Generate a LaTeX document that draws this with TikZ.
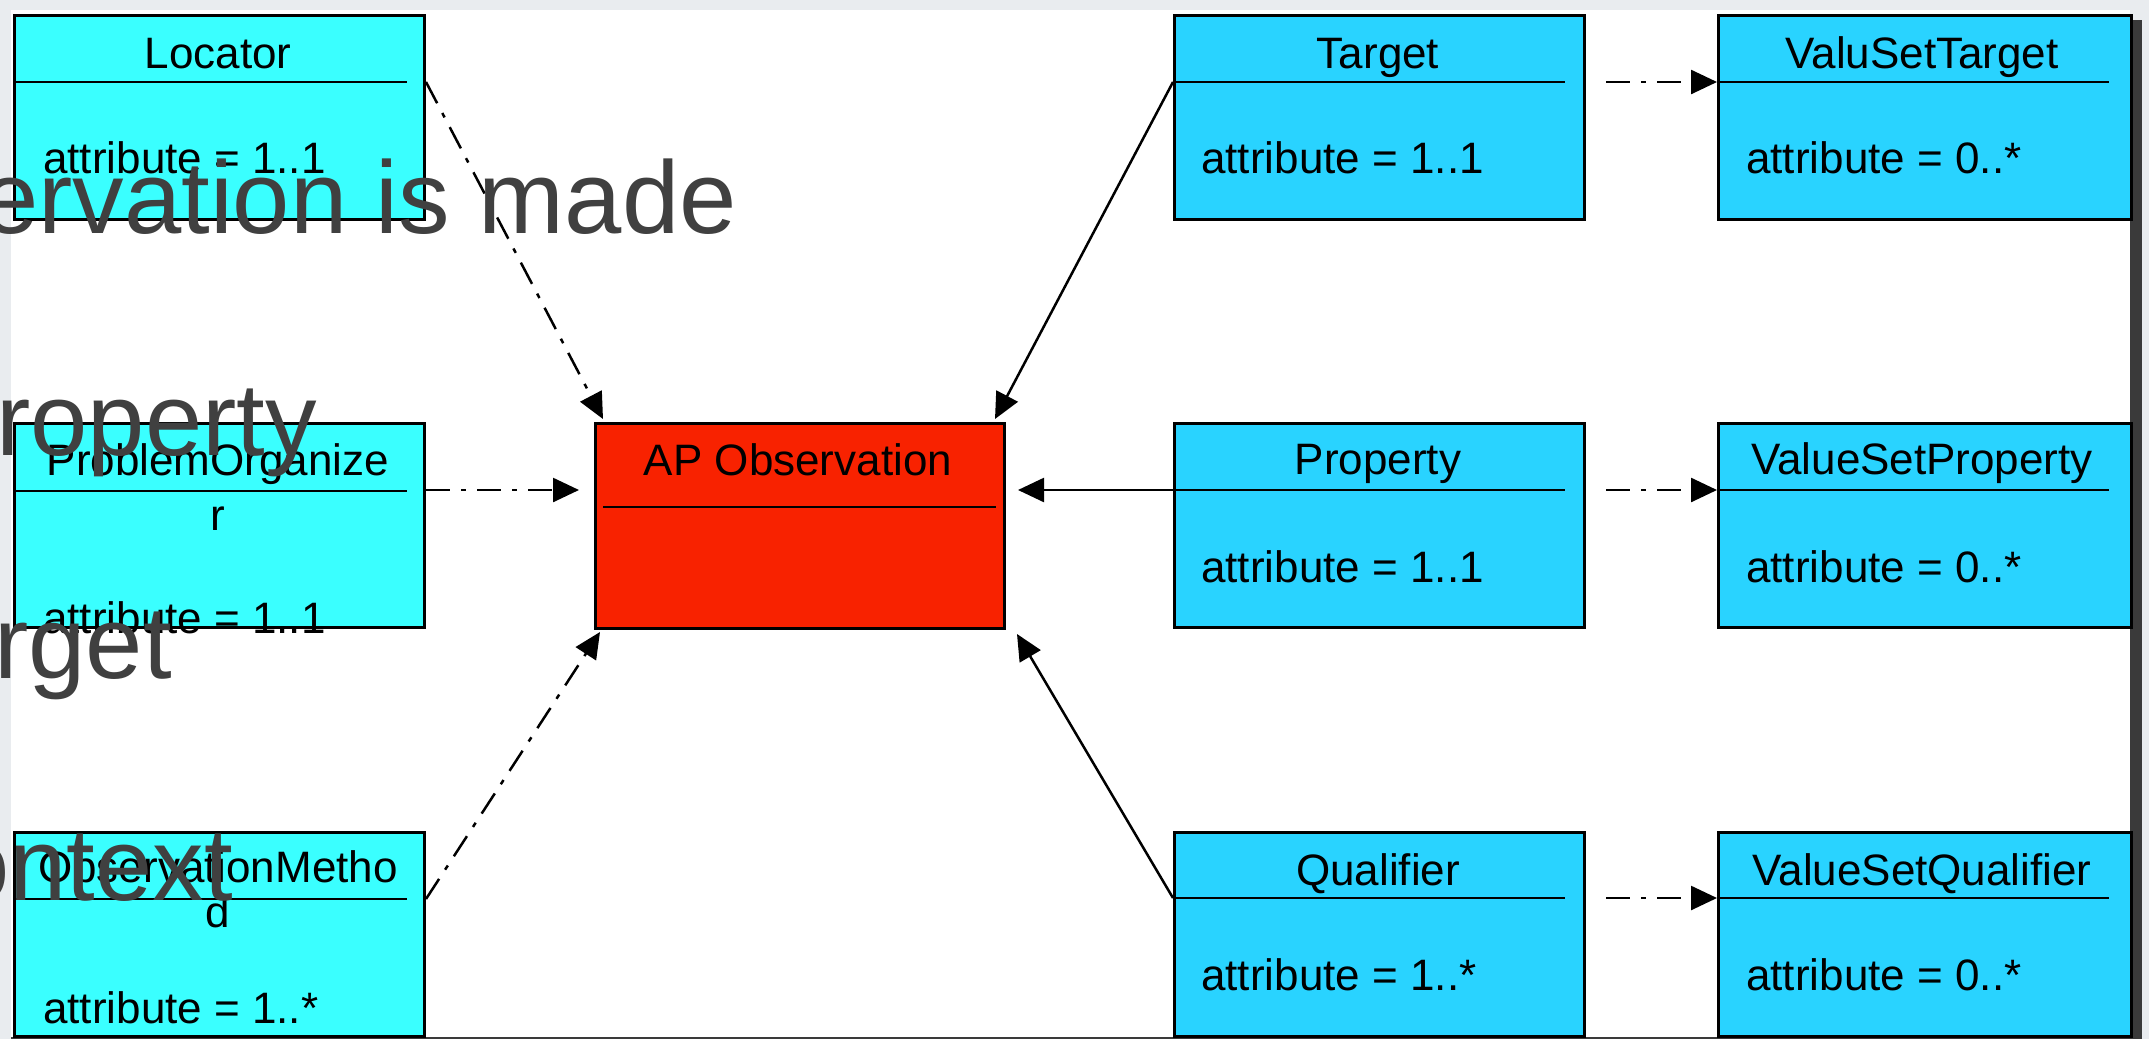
\documentclass[tikz,border=0pt]{standalone}
\usepackage{fontspec}
\setmainfont{Liberation Sans}
\usetikzlibrary{arrows.meta}
\definecolor{bggray}{HTML}{E9ECEF}
\definecolor{shadowgray}{HTML}{3A3A3A}
\definecolor{cyanL}{HTML}{3AFFFF}
\definecolor{skyR}{HTML}{29D3FF}
\definecolor{apred}{HTML}{F82200}
\definecolor{slidetext}{HTML}{404040}
\begin{document}
\begin{tikzpicture}[x=1pt,y=-1pt,
  umlbox/.style={draw=black, line width=3pt, inner sep=0pt, minimum height=204pt, anchor=north west},
  hdr/.style={anchor=base, inner sep=0pt, font=\fontsize{44}{50}\selectfont},
  attr/.style={anchor=base west, inner sep=0pt, font=\fontsize{44}{50}\selectfont},
  divider/.style={line width=2.5pt},
  assoc/.style={line width=2.5pt, -{Triangle[length=26pt,width=24pt]}},
  depend/.style={assoc, dash pattern=on 24pt off 11pt on 5pt off 11pt},
  slide/.style={anchor=base east, inner sep=0pt, text=slidetext, font=\fontsize{103}{110}\selectfont}]
\useasboundingbox (0,0) rectangle (2149,1039);
% background
\fill[bggray] (0,0) rectangle (2149,1039);
\fill[white] (11,10) rectangle (2130,1039);
\fill[shadowgray] (2130,20) rectangle (2142,1039);
\fill[shadowgray] (11,1037) rectangle (2142,1039);

% left column
\node[umlbox, fill=cyanL, minimum width=410pt] (loc) at (13,14) {};
\node[umlbox, fill=cyanL, minimum width=410pt] (po) at (13,422) {};
\node[umlbox, fill=cyanL, minimum width=410pt] (om) at (13,831) {};
% centre
\node[umlbox, fill=apred, minimum width=409pt, minimum height=205pt] (ap) at (594,422) {};
% right column
\node[umlbox, fill=skyR, minimum width=410pt] (tgt) at (1173,14) {};
\node[umlbox, fill=skyR, minimum width=410pt] (prop) at (1173,422) {};
\node[umlbox, fill=skyR, minimum width=410pt] (qual) at (1173,831) {};
% value set column
\node[umlbox, fill=skyR, minimum width=413pt] (vst) at (1717,14) {};
\node[umlbox, fill=skyR, minimum width=413pt] (vsp) at (1717,422) {};
\node[umlbox, fill=skyR, minimum width=413pt] (vsq) at (1717,831) {};

% dividers
\draw[divider] ([yshift=-68pt]loc.north west) -- ([yshift=-68pt,xshift=-19pt]loc.north east);
\draw[divider] ([yshift=-69pt]po.north west) -- ([yshift=-69pt,xshift=-19pt]po.north east);
\draw[divider] ([yshift=-68pt]om.north west) -- ([yshift=-68pt,xshift=-19pt]om.north east);
\draw[divider] ([yshift=-85pt,xshift=9pt]ap.north west) -- ([yshift=-85pt,xshift=-10pt]ap.north east);
\draw[divider] ([yshift=-68pt]tgt.north west) -- ([yshift=-68pt,xshift=-21pt]tgt.north east);
\draw[divider] ([yshift=-68pt]prop.north west) -- ([yshift=-68pt,xshift=-21pt]prop.north east);
\draw[divider] ([yshift=-67pt]qual.north west) -- ([yshift=-67pt,xshift=-21pt]qual.north east);
\draw[divider] ([yshift=-68pt]vst.north west) -- ([yshift=-68pt,xshift=-24pt]vst.north east);
\draw[divider] ([yshift=-68pt]vsp.north west) -- ([yshift=-68pt,xshift=-24pt]vsp.north east);
\draw[divider] ([yshift=-67pt]vsq.north west) -- ([yshift=-67pt,xshift=-24pt]vsq.north east);

% texts
\node[hdr] (loch) at (218,68) {Locator};
\node[attr] (loca) at (43,173) {attribute = 1..1};
\node[hdr] (poh) at (218,475) {ProblemOrganize};
\node[hdr] (poh2) at (218,530) {r};
\node[attr] (poa) at (43,633) {attribute = 1..1};
\node[hdr] (omh) at (218,882) {ObservationMetho};
\node[hdr] (omh2) at (218,927) {d};
\node[attr] (oma) at (43,1023) {attribute = 1..*};
\node[hdr] (aph) at (798,475) {AP Observation};
\node[hdr] (tgth) at (1378,68) {Target};
\node[attr] (tgta) at (1201,173) {attribute = 1..1};
\node[hdr] (proph) at (1378,474) {Property};
\node[attr] (propa) at (1201,582) {attribute = 1..1};
\node[hdr] (qualh) at (1378,885) {Qualifier};
\node[attr] (quala) at (1201,990) {attribute = 1..*};
\node[hdr] (vsth) at (1922,68) {ValuSetTarget};
\node[attr] (vsta) at (1746,173) {attribute = 0..*};
\node[hdr] (vsph) at (1922,474) {ValueSetProperty};
\node[attr] (vspa) at (1746,582) {attribute = 0..*};
\node[hdr] (vsqh) at (1922,885) {ValueSetQualifier};
\node[attr] (vsqa) at (1746,990) {attribute = 0..*};

% connectors
\draw[depend] ([yshift=-68pt]loc.north east) -- ([xshift=9pt,yshift=3pt]ap.north west);
\draw[depend] ([yshift=-68pt]po.north east) -- ([xshift=-15pt,yshift=-68pt]ap.north west);
\draw[depend] ([yshift=-68pt]om.north east) -- ([xshift=6pt,yshift=-2pt]ap.south west);
\draw[assoc] ([yshift=-68pt]tgt.north west) -- ([xshift=-11pt,yshift=3pt]ap.north east);
\draw[assoc] ([yshift=-68pt]prop.north west) -- ([xshift=12pt,yshift=-68pt]ap.north east);
\draw[assoc] ([yshift=-67pt]qual.north west) -- ([xshift=11pt,yshift=-4pt]ap.south east);
\draw[depend] ([xshift=20pt,yshift=-68pt]tgt.north east) -- ([yshift=-68pt]vst.north west);
\draw[depend] ([xshift=20pt,yshift=-68pt]prop.north east) -- ([yshift=-68pt]vsp.north west);
\draw[depend] ([xshift=20pt,yshift=-67pt]qual.north east) -- ([yshift=-67pt]vsq.north west);

% overlaid slide text
\node[slide] (s1) at (737,233) {ervation is made};
\node[slide] (s2) at (317,455) {roperty};
\node[slide] (s3) at (172,678) {rget};
\node[slide] (s4) at (233,900) {ontext};
\end{tikzpicture}
\end{document}
